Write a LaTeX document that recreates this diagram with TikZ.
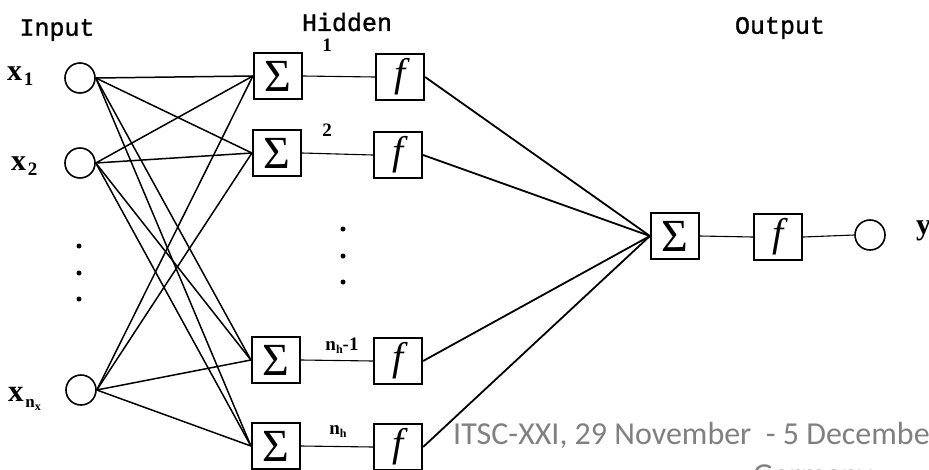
\documentclass[tikz,border=0pt]{standalone}
\usepackage{fontspec}
\setmainfont{Liberation Serif}
\newfontfamily\monofam{Liberation Mono}[BoldFont={Liberation Mono}, BoldFeatures={FakeBold=1.3}]
\newfontfamily\carlfam{Carlito}
\definecolor{footgray}{RGB}{128,128,128}
\tikzset{
  inode/.style={circle, draw, line width=1.6pt, minimum size=30pt, inner sep=0pt},
  blk/.style={draw, line width=2.2pt, minimum width=48pt, minimum height=46pt, inner sep=0pt},
  sumbox/.style={blk, font=\fontsize{46}{46}\selectfont},
  fbox/.style={blk, font=\itshape\fontsize{40}{40}\selectfont},
  title/.style={font=\monofam\bfseries\fontsize{25}{25}\selectfont, inner sep=0pt},
  hlabel/.style={font=\bfseries\fontsize{19}{19}\selectfont, inner sep=0pt},
  wire/.style={line width=1.5pt},
  thinwire/.style={line width=1.1pt},
  outwire/.style={line width=1.8pt},
  dotmark/.style={circle, fill, inner sep=0pt, minimum size=5pt},
  foot/.style={font=\carlfam\fontsize{32}{32}\selectfont, text=footgray, inner sep=0pt}
}
\newcommand{\xlab}[1]{{\fontsize{30}{30}\selectfont\textbf{x}}\,\raisebox{-5pt}{\fontsize{19}{19}\selectfont\textbf{#1}}}
\begin{document}
\begin{tikzpicture}[x=1pt,y=-1pt]
\useasboundingbox (0,0) rectangle (929,469);
% titles
\node[title] (tin) at (57,30) {Input};
\node[title] (thid) at (347,22) {Hidden};
\node[title] (tout) at (780,28) {Output};
% inputs
\node[inode] (x1) at (80,78) {};
\node[inode] (x2) at (80,163) {};
\node[inode] (xn) at (81,390) {};
\node[anchor=base west, inner sep=0pt] (lx1) at (7,80) {\xlab{1}};
\node[anchor=base west, inner sep=0pt] (lx2) at (11,170) {\xlab{2}};
\node[anchor=base west, inner sep=0pt] (lxn) at (8,401) {{\fontsize{31}{31}\selectfont\textbf{x}}\,\raisebox{-6pt}{\fontsize{17}{17}\selectfont\textbf{n}\raisebox{-3pt}{\fontsize{12}{12}\selectfont\textbf{x}}}};
\node[dotmark] (id1) at (79,246) {};
\node[dotmark] (id2) at (79,273) {};
\node[dotmark] (id3) at (79,299) {};
% hidden sums
\node[sumbox] (h1) at (278,76) {Σ};
\node[sumbox] (h2) at (277,153) {Σ};
\node[sumbox] (h3) at (276,360) {Σ};
\node[sumbox] (h4) at (276,446) {Σ};
% hidden f
\node[fbox] (f1) at (400,77) {f};
\node[fbox] (f2) at (398,155) {f};
\node[fbox] (f3) at (398,361) {f};
\node[fbox] (f4) at (398,447) {f};
\node[dotmark] (hd1) at (343,229) {};
\node[dotmark] (hd2) at (343,256) {};
\node[dotmark] (hd3) at (343,282) {};
% hidden labels
\node[hlabel] (l1) at (327,45) {1};
\node[hlabel] (l2) at (327,130) {2};
\node[hlabel] (l3) at (342,346) {n\raisebox{-3pt}{\fontsize{12}{12}\selectfont h}-1};
\node[hlabel] (l4) at (338,432) {n\raisebox{-3pt}{\fontsize{12}{12}\selectfont h}};
% output
\node[sumbox] (o1) at (675,236) {Σ};
\node[fbox] (of) at (778,237) {f};
\node[inode] (y) at (870,235) {};
\node[anchor=west, inner sep=0pt, font=\bfseries\fontsize{30}{30}\selectfont] (ly) at (916,231) {y};
% connections input -> hidden
\foreach \i in {x1,x2,xn}{
  \foreach \h in {h1,h2,h3,h4}{
    \draw[wire] (\i.east) -- (\h.west);
  }
}
% hidden sum -> f
\draw[thinwire] (h1.east) -- (f1.west);
\draw[thinwire] (h2.east) -- (f2.west);
\draw[thinwire] (h3.east) -- (f3.west);
\draw[thinwire] (h4.east) -- (f4.west);
% f -> output sum
\foreach \f in {f1,f2,f3,f4}{
  \draw[outwire] (\f.east) -- (o1.west);
}
\draw[thinwire] (o1.east) -- (of.west);
\draw[thinwire] (of.east) -- (y.west);
% footer
\node[foot, anchor=base west] (ft1) at (453,444) {ITSC-XXI, 29 November\ \ - 5 December};
\node[foot, anchor=base west] (ft2) at (753,485) {Germany};
\end{tikzpicture}
\end{document}
